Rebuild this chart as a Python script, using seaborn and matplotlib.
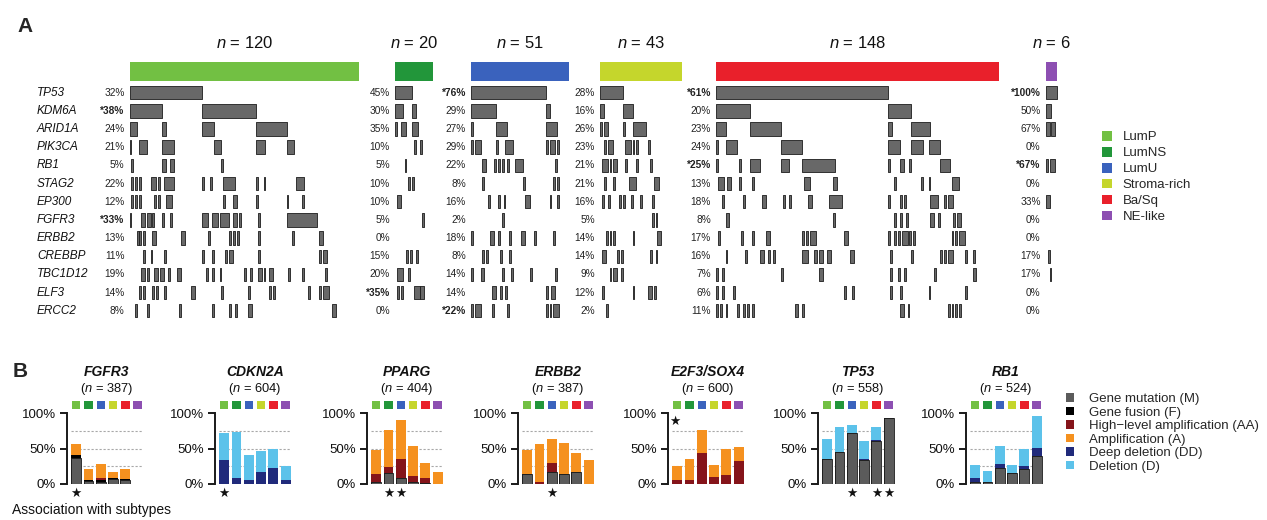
import matplotlib
matplotlib.use("Agg")
import matplotlib.pyplot as plt
import matplotlib.transforms as mtransforms
from matplotlib.patches import Patch
import seaborn as sns

# ---------------------------------------------------------------- data
SUBTYPES = ["LumP", "LumNS", "LumU", "Stroma-rich", "Ba/Sq", "NE-like"]
SUBTYPE_COLORS = ["#72c043", "#22963a", "#3a62bd", "#c5d62c", "#e9202b", "#8d4fb2"]
SUBTYPE_N = [120, 20, 51, 43, 148, 6]

GENES_A = ["TP53", "KDM6A", "ARID1A", "PIK3CA", "RB1", "STAG2", "EP300",
           "FGFR3", "ERBB2", "CREBBP", "TBC1D12", "ELF3", "ERCC2"]

# mutation frequency per gene (bold with * = significant association)
PCT_LUMP = ["32%", "*38%", "24%", "21%", "5%", "22%", "12%", "*33%", "13%", "11%", "19%", "14%", "8%"]
PCT_LUMNS = ["45%", "30%", "35%", "10%", "5%", "10%", "10%", "5%", "0%", "15%", "20%", "*35%", "0%"]
PCT_LUMU = ["*76%", "29%", "27%", "29%", "22%", "8%", "16%", "2%", "18%", "8%", "14%", "14%", "*22%"]
PCT_STROMA = ["28%", "16%", "26%", "23%", "21%", "21%", "16%", "5%", "14%", "14%", "9%", "12%", "2%"]
PCT_BASQ = ["*61%", "20%", "23%", "24%", "*25%", "13%", "18%", "8%", "17%", "16%", "7%", "6%", "11%"]
PCT_NE = ["*100%", "50%", "67%", "0%", "*67%", "0%", "33%", "0%", "0%", "17%", "17%", "0%", "0%"]

# mutated samples per gene as (first sample, number of samples) runs
RUNS_LUMP = [
    [(0, 38)],
    [(0, 17), (38, 28)],
    [(0, 4), (17, 2), (38, 6), (66, 16)],
    [(0, 1), (5, 4), (17, 6), (44, 4), (66, 5), (82, 4)],
    [(1, 1), (17, 2), (21, 2), (48, 1)],
    [(1, 1), (3, 1), (5, 1), (11, 3), (15, 1), (18, 5), (38, 1), (42, 1), (49, 6), (66, 1), (70, 1), (87, 4)],
    [(1, 1), (3, 1), (5, 1), (13, 1), (15, 1), (19, 3), (49, 1), (54, 2), (66, 1), (82, 1), (90, 1)],
    [(0, 1), (6, 2), (9, 2), (12, 1), (17, 1), (21, 1), (38, 3), (43, 3), (47, 5), (54, 2), (57, 1), (67, 1), (82, 16)],
    [(4, 1), (5, 1), (7, 1), (12, 2), (27, 2), (41, 1), (52, 1), (54, 1), (56, 1), (67, 1), (85, 1), (99, 2)],
    [(7, 1), (11, 1), (18, 1), (38, 1), (43, 1), (50, 1), (52, 2), (67, 1), (99, 1), (101, 2)],
    [(6, 2), (9, 1), (13, 2), (16, 2), (20, 1), (25, 2), (40, 1), (43, 1), (47, 1), (60, 1), (63, 1), (67, 2),
     (70, 1), (73, 2), (83, 1), (90, 1), (102, 1)],
    [(5, 1), (7, 1), (12, 1), (14, 1), (18, 1), (32, 2), (48, 1), (62, 1), (73, 1), (75, 1), (93, 1), (99, 1), (101, 3)],
    [(3, 1), (9, 1), (26, 1), (43, 1), (52, 1), (55, 1), (62, 2), (106, 2)],
]
RUNS_LUMNS = [
    [(0, 9)],
    [(0, 4), (9, 2)],
    [(0, 1), (3, 3), (9, 3)],
    [(10, 1), (13, 1)],
    [(5, 1)],
    [(7, 1), (9, 1)],
    [(1, 2)],
    [(14, 1)],
    [],
    [(6, 1), (8, 1), (11, 1)],
    [(1, 3), (7, 1)],
    [(1, 1), (3, 1), (10, 3), (13, 2)],
    [],
]
RUNS_LUMU = [
    [(0, 39)],
    [(0, 13), (39, 2)],
    [(0, 1), (13, 6), (39, 6)],
    [(0, 1), (2, 3), (13, 1), (18, 4), (39, 1), (41, 3), (45, 1)],
    [(6, 2), (12, 1), (14, 1), (16, 1), (19, 1), (23, 4), (44, 1)],
    [(6, 1), (27, 1), (43, 1), (45, 1)],
    [(9, 1), (14, 1), (17, 1), (28, 3), (41, 1), (45, 1)],
    [(16, 1)],
    [(0, 1), (10, 2), (14, 1), (20, 1), (26, 2), (33, 1), (43, 1)],
    [(6, 1), (8, 1), (15, 1), (20, 1)],
    [(0, 1), (5, 2), (16, 1), (21, 1), (31, 1), (44, 1)],
    [(11, 2), (15, 1), (18, 1), (39, 1), (42, 2)],
    [(0, 1), (2, 3), (11, 1), (19, 1), (39, 1), (41, 1), (43, 3)],
]
RUNS_STROMA = [
    [(0, 12)],
    [(0, 2), (12, 5)],
    [(0, 1), (2, 2), (12, 1), (17, 7)],
    [(2, 1), (4, 3), (13, 3), (17, 1), (19, 1), (25, 1)],
    [(1, 3), (5, 1), (7, 2), (13, 1), (19, 1), (26, 1)],
    [(2, 1), (7, 1), (15, 4), (28, 3)],
    [(1, 1), (4, 1), (10, 1), (12, 1), (16, 1), (21, 1), (27, 1)],
    [(27, 1), (29, 1)],
    [(3, 1), (5, 1), (7, 1), (17, 1), (30, 2)],
    [(1, 2), (9, 1), (11, 1), (26, 1), (29, 1)],
    [(5, 1), (7, 2), (11, 1)],
    [(1, 1), (17, 1), (25, 2), (28, 1)],
    [(3, 1)],
]
RUNS_BASQ = [
    [(0, 90)],
    [(0, 18), (90, 12)],
    [(0, 5), (18, 16), (90, 2), (102, 10)],
    [(0, 1), (5, 6), (34, 11), (90, 6), (102, 6), (111, 6)],
    [(0, 1), (12, 1), (18, 5), (34, 4), (45, 17), (90, 1), (96, 2), (101, 1), (117, 5)],
    [(1, 3), (6, 2), (12, 1), (19, 1), (46, 3), (61, 2), (93, 1), (107, 1), (111, 1), (123, 4)],
    [(3, 1), (14, 1), (24, 2), (35, 1), (38, 1), (48, 2), (59, 7), (90, 1), (96, 1), (98, 1), (112, 4),
     (119, 1), (121, 3)],
    [(5, 2), (61, 1), (93, 1), (96, 1), (99, 1), (112, 2), (116, 1), (124, 1), (126, 2)],
    [(1, 1), (13, 1), (19, 1), (26, 2), (45, 1), (47, 1), (49, 3), (67, 2), (90, 1), (93, 1), (95, 1), (97, 3),
     (101, 1), (103, 1), (123, 1), (125, 1), (127, 3)],
    [(5, 1), (15, 1), (23, 2), (27, 1), (30, 1), (45, 3), (51, 2), (54, 2), (58, 2), (70, 2), (91, 1), (102, 1),
     (117, 1), (119, 1), (121, 3), (130, 1), (134, 1)],
    [(0, 1), (3, 1), (34, 1), (54, 2), (91, 1), (95, 1), (98, 1), (114, 1), (134, 2)],
    [(0, 1), (3, 1), (9, 1), (67, 1), (71, 1), (91, 1), (96, 1), (111, 1), (130, 1)],
    [(0, 1), (2, 1), (5, 1), (11, 1), (14, 1), (16, 1), (19, 1), (41, 2), (45, 1), (96, 2), (100, 1),
     (121, 1), (123, 1), (125, 1), (127, 1)],
]
RUNS_NE = [
    [(0, 6)],
    [(0, 3)],
    [(0, 2), (3, 2)],
    [],
    [(0, 1), (2, 3)],
    [],
    [(0, 2)],
    [],
    [],
    [(1, 1)],
    [(2, 1)],
    [],
    [],
]

# panel B: percentage of samples with each alteration type, per subtype
B_GENES = ["FGFR3", "CDKN2A", "PPARG", "ERBB2", "E2F3/SOX4", "TP53", "RB1"]
B_N = [387, 604, 404, 387, 600, 558, 524]
ALT_LABELS = ["Gene mutation (M)", "Gene fusion (F)", "High\u2212level amplification (AA)",
              "Amplification (A)", "Deep deletion (DD)", "Deletion (D)"]
ALT_COLORS = ["#5b5b5b", "#000000", "#85141a", "#f5911f", "#202a7b", "#5cc2ea"]

MUT = [[37, 4, 3, 7, 6, 0], [0, 0, 0, 0, 0, 0], [3, 15, 9, 3, 2, 0], [14, 0, 17, 14, 17, 0],
       [0, 0, 0, 0, 0, 0], [35, 45, 72, 34, 61, 94], [3, 3, 22, 15, 21, 39]]
FUS = [[4, 1, 2, 2, 1, 0], [0, 0, 0, 0, 0, 0], [0, 0, 0, 0, 0, 0], [0, 0, 0, 0, 0, 0],
       [0, 0, 0, 0, 0, 0], [0, 0, 0, 0, 0, 0], [0, 0, 0, 0, 0, 0]]
HAMP = [[0, 0, 3, 0, 0, 0], [0, 0, 0, 0, 0, 0], [11, 9, 27, 8, 7, 0], [0, 3, 12, 0, 0, 0],
        [5, 6, 44, 10, 13, 32], [0, 0, 0, 0, 0, 0], [0, 0, 0, 0, 0, 0]]
AMP = [[15, 16, 20, 8, 14, 0], [0, 0, 0, 0, 0, 0], [34, 53, 54, 43, 20, 17], [34, 54, 35, 44, 27, 34],
       [21, 29, 33, 17, 36, 21], [0, 0, 0, 0, 0, 0], [0, 0, 0, 0, 0, 0]]
DDEL = [[0, 0, 0, 0, 0, 0], [34, 9, 5, 17, 22, 6], [0, 0, 0, 0, 0, 0], [0, 0, 0, 0, 0, 0],
        [0, 0, 0, 0, 0, 0], [1, 0, 0, 1, 1, 0], [6, 0, 6, 0, 4, 12]]
DEL = [[0, 0, 0, 0, 0, 0], [38, 64, 36, 29, 27, 20], [0, 0, 0, 0, 0, 0], [0, 0, 0, 0, 0, 0],
       [0, 0, 0, 0, 0, 0], [27, 35, 12, 26, 18, 0], [18, 16, 26, 12, 25, 45]]

# significant subtypes marked below the bars, and an overall mark above
B_STARS = [[0], [0], [1, 2], [2], [], [2, 4, 5], []]
B_STARS_TOP = [[], [], [], [], [0], [], []]

# ---------------------------------------------------------------- style
sns.set_theme(style="white")
plt.rcParams["font.family"] = ["Liberation Sans", "DejaVu Sans"]
plt.rcParams["mathtext.fontset"] = "custom"
plt.rcParams["mathtext.it"] = "Liberation Sans:italic"
plt.rcParams["mathtext.rm"] = "Liberation Sans"

W, H = 1267, 520
fig = plt.figure(figsize=(W / 100, H / 100), dpi=100)
fig.patch.set_facecolor("white")


def px_box(x0, y0, x1, y1):
    """Figure-fraction rectangle from pixel edges (origin top-left)."""
    return [x0 / W, 1 - y1 / H, (x1 - x0) / W, (y1 - y0) / H]


# ---------------------------------------------------------------- panel A
PX_PER_SAMPLE = 1.915
GROUP_X0 = [129.5, 395, 471, 600, 716, 1045.7]
A_TOP, A_BOTTOM = 30, 322
ROW0_Y, ROW_STEP = 92.7, 18.17


def row_of(y_px):
    return (y_px - ROW0_Y) / ROW_STEP


ALL_RUNS = [RUNS_LUMP, RUNS_LUMNS, RUNS_LUMU, RUNS_STROMA, RUNS_BASQ, RUNS_NE]
ALL_PCT = [PCT_LUMP, PCT_LUMNS, PCT_LUMU, PCT_STROMA, PCT_BASQ, PCT_NE]

first_ax = None
for gi, (name, n, col) in enumerate(zip(SUBTYPES, SUBTYPE_N, SUBTYPE_COLORS)):
    x0 = GROUP_X0[gi]
    ax = fig.add_axes(px_box(x0, A_TOP, x0 + n * PX_PER_SAMPLE, A_BOTTOM))
    ax.set_xlim(0, n)
    ax.set_ylim(row_of(A_BOTTOM), row_of(A_TOP))
    ax.axis("off")
    if first_ax is None:
        first_ax = ax

    # subtype header bar
    hb0, hb1 = row_of(61.7), row_of(81.0)
    ax.broken_barh([(0, n)], (hb0, hb1 - hb0), facecolors=col, edgecolors="none")
    ax.text(n / 2, row_of(42.7), r"$\mathit{n}$ = %d" % n, ha="center", va="center",
            fontsize=12, color="#111111")

    for r, runs in enumerate(ALL_RUNS[gi]):
        if runs:
            ax.broken_barh(runs, (r - 0.37, 0.74), facecolors="#686868",
                           edgecolors="#1c1c1c", linewidth=0.6)
        lab = ALL_PCT[gi][r]
        ax.text(-5 / PX_PER_SAMPLE, r, lab, ha="right", va="center",
                fontsize=7.3, color="#222222",
                fontweight="bold" if lab.startswith("*") else "normal")

gene_tr = mtransforms.blended_transform_factory(fig.transFigure, first_ax.transData)
for r, g in enumerate(GENES_A):
    first_ax.text(37 / W, r, g, transform=gene_tr, ha="left", va="center",
                  fontsize=8.5, fontstyle="italic", color="#111111")

fig.text(17 / W, 1 - 26 / H, "A", fontsize=15, fontweight="bold", va="center", ha="left")

fig.legend(handles=[Patch(facecolor=c, edgecolor="none", label=s)
                    for s, c in zip(SUBTYPES, SUBTYPE_COLORS)],
           loc="upper left", bbox_to_anchor=(1102 / W, 1 - 131 / H),
           frameon=False, fontsize=9.5, handlelength=0.76, handleheight=0.76,
           handletextpad=0.8, labelspacing=0.26, borderpad=0, borderaxespad=0)

# ---------------------------------------------------------------- panel B
B_AXIS_X = [67, 215, 367, 518, 668, 818, 966]
SLOT = 12.3
B_TOP, B_BOTTOM = 413.3, 484.0
ALT_TABLES = [MUT, FUS, HAMP, AMP, DDEL, DEL]

for bi, gene in enumerate(B_GENES):
    xa = B_AXIS_X[bi]
    ax = fig.add_axes(px_box(xa, B_TOP, xa + 3 + 6 * SLOT, B_BOTTOM))

    # cumulative heights, drawn from the top layer down so each layer sits on the one below
    cum = []
    running = [0] * 6
    for table in ALT_TABLES:
        running = [a + b for a, b in zip(running, table[bi])]
        cum.append(list(running))
    for k in range(len(ALT_TABLES) - 1, -1, -1):
        sns.barplot(x=SUBTYPES, y=cum[k], order=SUBTYPES, color=ALT_COLORS[k],
                    saturation=1, width=0.8, errorbar=None, ax=ax,
                    linewidth=0.6 if k == 0 else 0,
                    edgecolor="#1e1e1e" if k == 0 else "none", zorder=2)

    ax.set_xlim(-0.5 - 3 / SLOT, 5.5)
    ax.set_ylim(0, 100)
    ax.set_xlabel("")
    ax.set_ylabel("")
    ax.set_xticks([])
    for yv in (25, 50, 75):
        ax.hlines(yv, -0.45, 5.45, colors="#a8a8a8", linestyles=(0, (2, 1.6)),
                  linewidth=0.8, zorder=1)
    sns.despine(ax=ax, bottom=True)
    ax.spines["left"].set_bounds(0, 100)
    ax.spines["left"].set_linewidth(1.4)
    ax.spines["left"].set_color("#1a1a1a")
    ax.set_yticks([0, 50, 100])
    ax.set_yticklabels(["0%", "50%", "100%"])
    ax.tick_params(axis="y", left=True, length=5, width=1.4, pad=3,
                   labelsize=9.5, color="#1a1a1a", labelcolor="#111111")

    # subtype colour keys above the bars
    ax.scatter(range(6), [112] * 6, marker="s", s=36, c=SUBTYPE_COLORS,
               linewidths=0, clip_on=False, zorder=3)
    ax.text(2.5, 158, gene, ha="center", va="center", fontsize=10,
            fontweight="bold", fontstyle="italic", color="#111111", clip_on=False)
    ax.text(2.5, 134, "(" + r"$\mathit{n}$" + " = %d)" % B_N[bi], ha="center",
            va="center", fontsize=9.3, color="#111111", clip_on=False)

    for j in B_STARS[bi]:
        ax.text(j, -14, "\u2605", ha="center", va="center", fontsize=9,
                family="DejaVu Sans", color="#111111", clip_on=False)
    for j in B_STARS_TOP[bi]:
        ax.text(j - 0.2, 88, "\u2605", ha="center", va="center", fontsize=9,
                family="DejaVu Sans", color="#111111", clip_on=False)

fig.text(13 / W, 1 - 371.5 / H, "B", fontsize=15, fontweight="bold", va="center", ha="left")
fig.text(12 / W, 1 - 510 / H, "Association with subtypes", fontsize=10, va="center",
         ha="left", color="#111111")

fig.legend(handles=[Patch(facecolor=c, edgecolor="none", label=s)
                    for s, c in zip(ALT_LABELS, ALT_COLORS)],
           loc="upper left", bbox_to_anchor=(1066 / W, 1 - 393 / H),
           frameon=False, fontsize=9.5, handlelength=0.6, handleheight=0.6,
           handletextpad=1.15, labelspacing=0.12, borderpad=0, borderaxespad=0)

fig.savefig("out.png", dpi=100, facecolor="white")
